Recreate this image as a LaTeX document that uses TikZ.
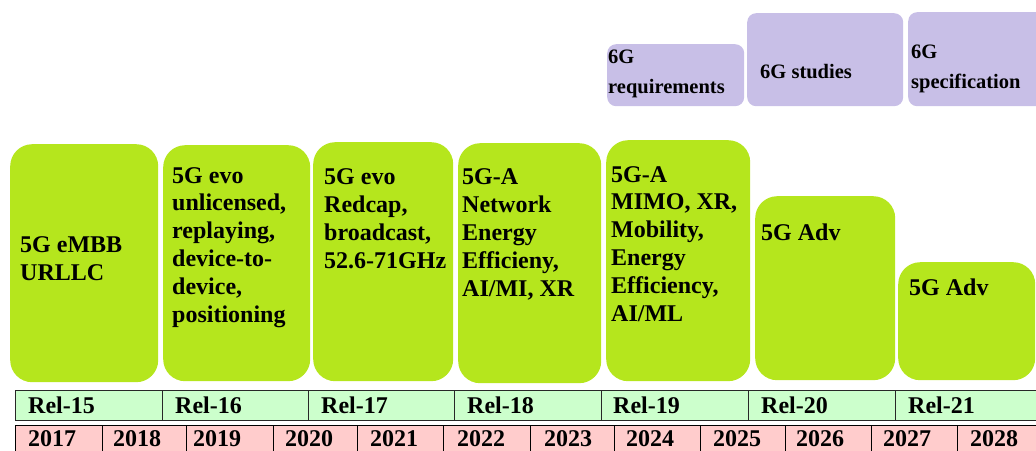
\documentclass[tikz,border=0pt]{standalone}
\usepackage{fontspec}
\setmainfont{Liberation Serif}
\definecolor{gfill}{RGB}{181,230,29}
\definecolor{pfill}{RGB}{200,191,231}
\definecolor{relfill}{RGB}{204,255,204}
\definecolor{yearfill}{RGB}{255,204,204}
\definecolor{lineclr}{RGB}{40,40,40}
\begin{document}
\begin{tikzpicture}[x=1pt,y=-1pt,
  gbox/.style={fill=gfill, rounded corners=22pt, inner sep=0pt, anchor=north west},
  pbox/.style={fill=pfill, rounded corners=9pt, inner sep=0pt, anchor=north west},
  gtxt/.style={anchor=base west, inner sep=0pt, align=left, font=\bfseries\fontsize{24}{27.8}\selectfont},
  ptxt/.style={anchor=base west, inner sep=0pt, align=left, font=\bfseries\fontsize{20.5}{30}\selectfont},
  relcell/.style={draw=lineclr, line width=1.3pt, fill=relfill, inner sep=0pt, anchor=north west},
  yearcell/.style={draw=black, line width=1.3pt, fill=yearfill, inner sep=0pt, anchor=north west},
  rtxt/.style={anchor=base west, inner sep=0pt, font=\bfseries\fontsize{24}{28}\selectfont},
]
\useasboundingbox (0,0) rectangle (1036,450);

% purple 6G boxes
\node[pbox, minimum width=137pt, minimum height=62pt] (p1) at (607,44) {};
\node[pbox, minimum width=156pt, minimum height=93pt] (p2) at (747,13) {};
\node[pbox, minimum width=140pt, minimum height=94pt] (p3) at (908,12) {};
% (base anchor = baseline of the last line)
\node[ptxt] (pt1) at (608,93) {6G\\requirements};
\node[ptxt] (pt2) at (760,78) {6G studies};
\node[ptxt] (pt3) at (911,88) {6G\\specification};

% green release boxes
\node[gbox, minimum width=148pt, minimum height=238pt] (g1) at (10,144) {};
\node[gbox, minimum width=147pt, minimum height=236pt] (g2) at (163,145) {};
\node[gbox, minimum width=140pt, minimum height=239pt] (g3) at (313,142) {};
\node[gbox, minimum width=143pt, minimum height=240pt] (g4) at (458,143) {};
\node[gbox, minimum width=144pt, minimum height=241pt] (g5) at (606,140) {};
\node[gbox, minimum width=140pt, minimum height=184pt] (g6) at (755,196) {};
\node[gbox, minimum width=137pt, minimum height=118pt] (g7) at (898,262) {};

\node[gtxt] (t1) at (20,280) {5G eMBB\\URLLC};
\node[gtxt] (t2) at (172,322) {5G evo\\unlicensed,\\replaying,\\device-to-\\device,\\positioning};
\node[gtxt] (t3) at (324,268) {5G evo\\Redcap,\\broadcast,\\52.6-71GHz};
\node[gtxt] (t4) at (462,296) {5G-A\\Network\\Energy\\Efficieny,\\AI/MI, XR};
\node[gtxt] (t5) at (611,321) {5G-A\\MIMO, XR,\\Mobility,\\Energy\\Efficiency,\\AI/ML};
\node[gtxt] (t6) at (761,240) {5G Adv};
\node[gtxt] (t7) at (909,295) {5G Adv};

% release row
\foreach \a/\b/\t/\tx in {15/162/15/28, 162/308/16/175, 308/454/17/321, 454/601/18/467, 601/748/19/613, 748/895/20/761, 895/1045/21/908}{
  \node[relcell, minimum width={(\b-\a)*1pt}, minimum height=30pt] (rc\t) at (\a,390) {};
  \node[rtxt] (rt\t) at (\tx,413) {Rel-\t};
}

% year row
\foreach \a/\b/\y/\tx in {15/102/2017/28, 102/186/2018/113, 186/273/2019/193, 273/357/2020/285, 357/443/2021/370, 443/530/2022/457, 530/614/2023/544, 614/700/2024/626, 700/785/2025/713, 785/871/2026/796, 871/957/2027/883, 957/1045/2028/970}{
  \node[yearcell, minimum width={(\b-\a)*1pt}, minimum height=32pt] (yc\y) at (\a,425) {};
  \node[rtxt] (yt\y) at (\tx,446) {\y};
}
\end{tikzpicture}
\end{document}
